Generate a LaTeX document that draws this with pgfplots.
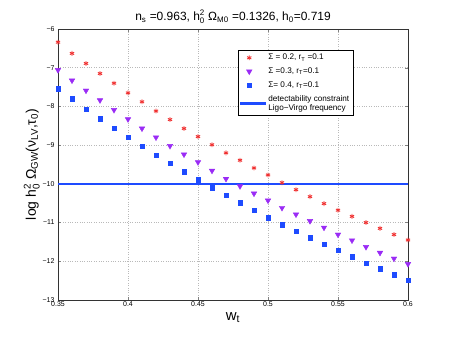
\documentclass[border=0pt]{standalone}
\usepackage{amsmath}
\usepackage{fontspec}
\setmainfont{Liberation Sans}
\usepackage{pgfplots}
\pgfplotsset{compat=1.18}
\usepackage{pgfplotstable}
\definecolor{redm}{HTML}{F03030}
\definecolor{purm}{HTML}{9A2BF5}
\definecolor{blum}{HTML}{1E4BFF}

\pgfplotstableread{
x r p b
0.35 -6.34 -7.06 -7.54
0.36 -6.63 -7.33 -7.80
0.37 -6.89 -7.59 -8.07
0.38 -7.15 -7.84 -8.32
0.39 -7.40 -8.09 -8.56
0.40 -7.65 -8.33 -8.80
0.41 -7.88 -8.57 -9.03
0.42 -8.12 -8.80 -9.26
0.43 -8.34 -9.02 -9.47
0.44 -8.57 -9.24 -9.69
0.45 -8.78 -9.44 -9.89
0.46 -8.99 -9.66 -10.10
0.47 -9.20 -9.87 -10.30
0.48 -9.39 -10.06 -10.49
0.49 -9.59 -10.25 -10.68
0.50 -9.77 -10.43 -10.87
0.51 -9.97 -10.62 -11.05
0.52 -10.15 -10.79 -11.22
0.53 -10.33 -10.96 -11.39
0.54 -10.51 -11.13 -11.56
0.55 -10.68 -11.31 -11.72
0.56 -10.84 -11.46 -11.88
0.57 -11.00 -11.63 -12.05
0.58 -11.15 -11.78 -12.19
0.59 -11.31 -11.93 -12.35
0.60 -11.45 -12.07 -12.49
}\gwdata

\begin{document}
\begin{tikzpicture}
  \useasboundingbox (-58bp,-38bp) rectangle (393bp,300bp);
  \begin{axis}[
    at={(0,0)},anchor=south west,
    scale only axis,width=350bp,height=271bp,
    xmin=0.35,xmax=0.6,ymin=-13,ymax=-6,
    xtick={0.35,0.4,0.45,0.5,0.55,0.6},
    xticklabels={0.35,0.4,0.45,0.5,0.55,0.6},
    ytick={-13,-12,-11,-10,-9,-8,-7,-6},
    yticklabels={−13,−12,−11,−10,−9,−8,−7,−6},
    tick align=inside,
    major tick length=3bp,
    tick label style={font=\fontsize{7}{8}\selectfont},
    xticklabel style={yshift=1.5bp},
    grid=major,
    major grid style={dotted,gray!55,line width=0.45pt},
    axis line style={black!80,line width=0.5pt},
    xlabel={w$_{\text{t}}$},
    xlabel style={font=\fontsize{15}{16}\selectfont,yshift=1bp},
    ylabel={log h$^{\text{2}}_{\text{0}}$ Ω$_{\text{GW}}$(ν$_{\text{LV}}$,τ$_{\text{0}}$)},
    ylabel style={font=\fontsize{14}{16}\selectfont,yshift=-4bp},
    title={n$_{\text{s}}$ =0.963, h$^{\text{2}}_{\text{0}}$ Ω$_{\text{M0}}$ =0.1326, h$_{\text{0}}$=0.719},
    title style={font=\fontsize{12}{13}\selectfont,yshift=-4bp},
    legend style={at={(0.514,0.9225)},anchor=north west,
      font=\fontsize{8.2}{9}\selectfont,cells={align=left},
      inner sep=2bp,row sep=2.5bp},
    legend cell align=left,
  ]
    \addplot[only marks,mark=asterisk,mark size=2.4bp,redm,mark options={line width=0.9pt}]
      table[x=x,y=r]{\gwdata};
    \addlegendentry{Σ = 0.2, r$_{\text{T}}$ =0.1}
    \addplot[only marks,mark=triangle*,mark size=3.2bp,purm,mark options={rotate=180}]
      table[x=x,y=p]{\gwdata};
    \addlegendentry{Σ =0.3, r$_{\text{T}}$=0.1}
    \addplot[only marks,mark=square*,mark size=2.2bp,blum]
      table[x=x,y=b]{\gwdata};
    \addlegendentry{Σ= 0.4, r$_{\text{T}}$=0.1}
    \addplot[blum,line width=1.3pt,
      legend image code/.code={\path[fill=blum] (0bp,-0.8bp) rectangle (25bp,0.8bp);}]
      coordinates {(0.35,-10) (0.6,-10)};
    \addlegendentry{detectability constraint\\Ligo−Virgo frequency}
  \end{axis}
\end{tikzpicture}
\end{document}
